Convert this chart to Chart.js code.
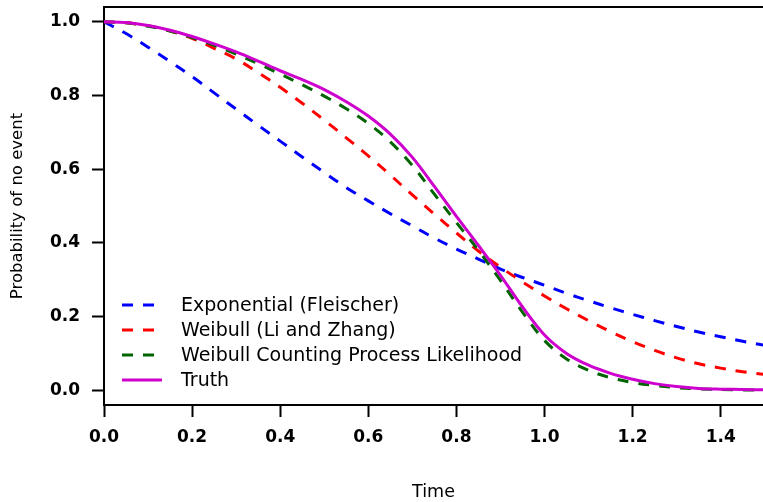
<!DOCTYPE html>
<html>
<head>
<meta charset="utf-8">
<script src="https://cdn.jsdelivr.net/npm/chart.js@4.4.1/dist/chart.umd.min.js"></script>
<style>
  html, body { margin: 0; padding: 0; background: #fff; overflow: hidden; }
  #wrap { width: 763px; height: 502px; position: relative; }
</style>
</head>
<body>
<div id="wrap"><canvas id="survChart"></canvas></div>
<script>
// values, every 0.05 time units
var times = [0, 0.05, 0.1, 0.15, 0.2, 0.25, 0.3, 0.35, 0.4, 0.45, 0.5, 0.55, 0.6, 0.65, 0.7, 0.75,
             0.8, 0.85, 0.9, 0.95, 1.0, 1.05, 1.1, 1.15, 1.2, 1.25, 1.3, 1.35, 1.4, 1.45, 1.5];

var exponential = [1.0, 0.968, 0.931, 0.892, 0.851, 0.807, 0.763, 0.719, 0.676, 0.633, 0.591, 0.550, 0.514, 0.479, 0.446, 0.413,
                   0.383, 0.356, 0.329, 0.306, 0.285, 0.263, 0.243, 0.224, 0.206, 0.189, 0.173, 0.158, 0.145, 0.133, 0.122];
var weibull = [1.0, 0.997, 0.989, 0.975, 0.955, 0.928, 0.899, 0.862, 0.822, 0.779, 0.733, 0.685, 0.636, 0.584, 0.530, 0.478,
               0.427, 0.378, 0.334, 0.294, 0.256, 0.221, 0.189, 0.159, 0.132, 0.108, 0.088, 0.072, 0.060, 0.050, 0.043];
var weibullCP = [1.0, 0.997, 0.988, 0.975, 0.957, 0.936, 0.912, 0.886, 0.858, 0.829, 0.798, 0.764, 0.724, 0.674, 0.610, 0.532,
                 0.455, 0.380, 0.298, 0.212, 0.135, 0.085, 0.054, 0.034, 0.021, 0.013, 0.007, 0.004, 0.002, 0.001, 0.001];
var truth = [1.0, 0.998, 0.990, 0.977, 0.960, 0.940, 0.918, 0.893, 0.867, 0.843, 0.816, 0.783, 0.744, 0.695, 0.632, 0.553,
             0.472, 0.393, 0.312, 0.226, 0.150, 0.100, 0.068, 0.046, 0.030, 0.018, 0.010, 0.005, 0.003, 0.002, 0.001];

var seriesNames = ["Exponential (Fleischer)", "Weibull (Li and Zhang)", "Weibull Counting Process Likelihood", "Truth"];

var xTicks = [0, 0.2, 0.4, 0.6, 0.8, 1.0, 1.2, 1.4];
var yTicks = [0, 0.2, 0.4, 0.6, 0.8, 1.0];

function toPoints(vals){
    var pts = [];
    for(var i = 0; i < times.length; i++){
        pts.push({x: times[i], y: vals[i]});
    }
    return pts;
}

var canvas = document.getElementById('survChart');
canvas.width = 763;
canvas.height = 502;

// R style legend: no box, short line samples, text on the right
var rLegend = {
    id: 'rLegend',
    afterDraw: function(chart){
        var ctx = chart.ctx;
        var area = chart.chartArea;
        var x0 = area.left + 18;
        var rows = [305, 330, 355, 380];
        ctx.save();
        chart.data.datasets.forEach(function(ds, i){
            ctx.strokeStyle = ds.borderColor;
            ctx.lineWidth = ds.borderWidth;
            ctx.setLineDash(ds.borderDash || []);
            ctx.beginPath();
            ctx.moveTo(x0, rows[i]);
            ctx.lineTo(x0 + 40, rows[i]);
            ctx.stroke();
            ctx.setLineDash([]);
            ctx.fillStyle = '#000';
            ctx.font = '19px "DejaVu Sans"';
            ctx.textBaseline = 'middle';
            ctx.textAlign = 'left';
            ctx.fillText(ds.label, area.left + 77, rows[i] + 1);
        });
        // top edge of the box
        ctx.strokeStyle = '#000';
        ctx.lineWidth = 2;
        ctx.beginPath();
        ctx.moveTo(area.left, area.top);
        ctx.lineTo(chart.width, area.top);
        ctx.stroke();
        ctx.restore();
    }
};

var survChart = new Chart(canvas.getContext('2d'), {
    type: 'line',
    data: {
        datasets: [
            {
                label: seriesNames[0],
                data: toPoints(exponential),
                borderColor: '#0000FF',
                borderWidth: 3,
                borderDash: [11, 10],
                order: 3
            },
            {
                label: seriesNames[1],
                data: toPoints(weibull),
                borderColor: '#FF0000',
                borderWidth: 3,
                borderDash: [11, 10],
                order: 2
            },
            {
                label: seriesNames[2],
                data: toPoints(weibullCP),
                borderColor: '#006400',
                borderWidth: 3,
                borderDash: [11, 10],
                order: 1
            },
            {
                label: seriesNames[3],
                data: toPoints(truth),
                borderColor: '#CD00CD',
                borderWidth: 3,
                order: 0
            }
        ]
    },
    options: {
        responsive: false,
        animation: false,
        devicePixelRatio: 1,
        layout: { padding: { top: 7, right: 0, left: 0, bottom: 0 } },
        elements: {
            point: { radius: 0 },
            line: { tension: 0.35, borderCapStyle: 'butt' }
        },
        plugins: {
            legend: { display: false },
            tooltip: { enabled: false }
        },
        scales: {
            x: {
                type: 'linear',
                min: 0,
                max: 1.496,
                afterBuildTicks: function(scale){
                    scale.ticks = xTicks.map(function(v){ return {value: v}; });
                },
                afterFit: function(scale){
                    scale.height = 97;
                    scale.paddingLeft = 0;
                    scale.paddingRight = 0;
                },
                border: { display: true, color: '#000', width: 2 },
                grid: { drawOnChartArea: false, drawTicks: true, tickLength: 12, tickColor: '#000', tickWidth: 2 },
                ticks: {
                    color: '#000',
                    padding: 10,
                    maxRotation: 0,
                    autoSkip: false,
                    font: { family: 'DejaVu Sans', size: 17, weight: 'bold' },
                    callback: function(v){ return v.toFixed(1); }
                },
                title: {
                    display: true,
                    text: 'Time',
                    color: '#000',
                    padding: { top: 0, bottom: -1 },
                    font: { family: 'DejaVu Sans', size: 17.5 }
                }
            },
            y: {
                type: 'linear',
                min: -0.04,
                max: 1.04,
                afterBuildTicks: function(scale){
                    scale.ticks = yTicks.map(function(v){ return {value: v}; });
                },
                afterFit: function(scale){
                    scale.width = 104;
                    scale.paddingTop = 0;
                    scale.paddingBottom = 0;
                },
                border: { display: true, color: '#000', width: 2 },
                grid: { drawOnChartArea: false, drawTicks: true, tickLength: 12, tickColor: '#000', tickWidth: 2 },
                ticks: {
                    color: '#000',
                    padding: 12,
                    autoSkip: false,
                    font: { family: 'DejaVu Sans', size: 17, weight: 'bold' },
                    callback: function(v){ return v.toFixed(1); }
                },
                title: {
                    display: true,
                    text: 'Probability of no event',
                    color: '#000',
                    padding: { top: 8, bottom: 0 },
                    font: { family: 'DejaVu Sans', size: 16.5 }
                }
            }
        }
    },
    plugins: [rLegend]
});
</script>
</body>
</html>
